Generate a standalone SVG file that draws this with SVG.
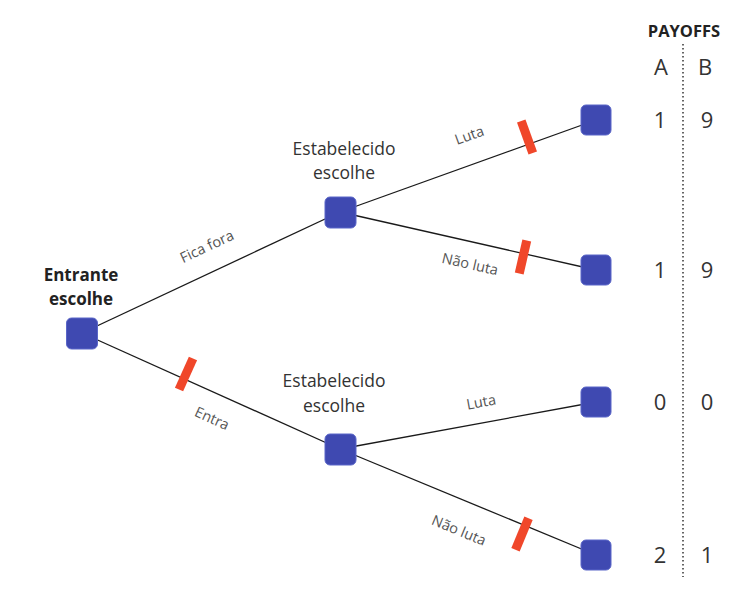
<svg xmlns="http://www.w3.org/2000/svg" width="745" height="599" viewBox="0 0 745 599">
<style>
.node{fill:#3F49B1;stroke:#5A66C8;stroke-width:1}
.edge{stroke:#1a1a1a;stroke-width:1.3;fill:none}
.cut{fill:#F0472A}
.lbl{font-family:"Open Sans","Noto Sans",sans-serif;font-size:14.5px;fill:#555;text-anchor:middle}
.who{font-family:"Open Sans","Noto Sans",sans-serif;font-size:17.5px;fill:#333;text-anchor:middle}
.whob{font-family:"Open Sans","Noto Sans",sans-serif;font-size:17px;font-weight:bold;fill:#222;text-anchor:middle}
.pay{font-family:"Open Sans","Noto Sans",sans-serif;font-size:22px;fill:#333;text-anchor:middle}
.hdr{font-family:"Open Sans","Noto Sans",sans-serif;font-size:16.5px;font-weight:bold;fill:#222;text-anchor:middle}
</style>
<rect width="745" height="599" fill="#fff"/>
<g id="connectors">
<line class="edge" x1="82" y1="333" x2="340" y2="212"/>
<line class="edge" x1="82" y1="333" x2="340" y2="449"/>
<line class="edge" x1="340" y1="212" x2="596" y2="120"/>
<line class="edge" x1="340" y1="212" x2="596" y2="270"/>
<line class="edge" x1="340" y1="449" x2="596" y2="402"/>
<line class="edge" x1="340" y1="449" x2="596" y2="555"/>
<rect class="cut" x="-4.5" y="-17" width="9" height="34" transform="translate(186,374) rotate(24.2)"/>
<rect class="cut" x="-4.5" y="-17" width="9" height="34" transform="translate(527,137) rotate(-19.8)"/>
<rect class="cut" x="-4.5" y="-17" width="9" height="34" transform="translate(523,257) rotate(12.8)"/>
<rect class="cut" x="-4.5" y="-17" width="9" height="34" transform="translate(522,534) rotate(22.5)"/>
<text class="lbl" transform="translate(209,251) rotate(-25.1)">Fica fora</text>
<text class="lbl" transform="translate(210,423) rotate(24.2)">Entra</text>
<text class="lbl" transform="translate(471,140) rotate(-19.8)">Luta</text>
<text class="lbl" transform="translate(469,269) rotate(12.8)">Não luta</text>
<text class="lbl" transform="translate(482,407) rotate(-10.4)">Luta</text>
<text class="lbl" transform="translate(457,535) rotate(22.5)">Não luta</text>
</g>
<g id="root">
<text class="whob" x="81" y="281">Entrante</text>
<text class="whob" x="81" y="305">escolhe</text>
<rect class="node" x="66.5" y="318" width="31" height="31" rx="5"/>
</g>
<g id="upper">
<text class="who" x="344" y="155">Estabelecido</text>
<text class="who" x="344" y="179">escolhe</text>
<rect class="node" x="325" y="197" width="31" height="31" rx="5"/>
</g>
<g id="lower">
<text class="who" x="334" y="387">Estabelecido</text>
<text class="who" x="334" y="412">escolhe</text>
<rect class="node" x="325" y="434" width="31" height="31" rx="5"/>
</g>
<g id="leaf1"><rect class="node" x="581" y="105" width="30" height="30" rx="5"/></g>
<g id="leaf2"><rect class="node" x="581" y="255" width="30" height="30" rx="5"/></g>
<g id="leaf3"><rect class="node" x="581" y="387" width="30" height="30" rx="5"/></g>
<g id="leaf4"><rect class="node" x="581" y="540" width="30" height="30" rx="5"/></g>
<g id="payoffs">
<text class="hdr" x="684" y="37">PAYOFFS</text>
<line x1="683" y1="44" x2="683" y2="577" stroke="#333" stroke-width="1.5" stroke-dasharray="1.5 2.5"/>
<text class="pay" x="661" y="75" font-size="25">A</text>
<text class="pay" x="705" y="75" font-size="25">B</text>
<text class="pay" x="660" y="128">1</text><text class="pay" x="707" y="128">9</text>
<text class="pay" x="660" y="278">1</text><text class="pay" x="707" y="278">9</text>
<text class="pay" x="660" y="410">0</text><text class="pay" x="707" y="410">0</text>
<text class="pay" x="660" y="563">2</text><text class="pay" x="707" y="563">1</text>
</g>
</svg>
